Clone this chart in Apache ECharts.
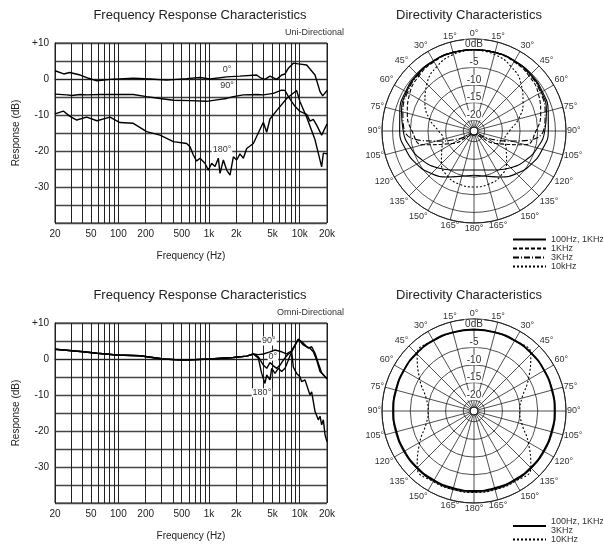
<!DOCTYPE html>
<html>
<head>
<meta charset="utf-8">
<script src="https://cdn.jsdelivr.net/npm/echarts@6/dist/echarts.min.js"></script>
<style>
html, body { margin: 0; padding: 0; background: #fff; }
#main { width: 603px; height: 547px; }
</style>
</head>
<body>
<div id="main"></div>
<script>
// ---- frequency response, uni-directional ----
var uniF0 = [20, 25, 29, 38, 47, 58, 81, 146, 223, 341, 566, 794, 1025, 1564, 2194, 3350, 3650, 4140, 4700, 5570, 6320, 6890, 7500, 8510, 9660, 11940, 14760, 16750, 17920, 20000];
var uniDb0 = [2.3, 1.4, 1.8, 1.1, 0.2, -0.5, -0.1, 0.2, 0, -0.3, 0.1, 0.4, 0, 0.6, 0.8, 1.1, 0.4, -0.1, 0.8, -0.1, 1.1, 1.4, 3, 4.4, 4.2, 3.9, 1.1, -3.5, -4.7, -3.2];

var uniF90 = [20, 27, 30.5, 38, 45, 63, 146, 205, 288, 404, 617, 942, 1214, 1564, 1854, 2390, 3350, 3972, 5118, 6320, 6890, 7500, 8870, 10070, 11940, 12980, 14130, 15380, 17460, 20000];
var uniDb90 = [-4.2, -4.4, -4.6, -4.3, -4.4, -4.3, -4.3, -4.9, -5.4, -5.9, -6.0, -6.2, -5.8, -5.4, -4.9, -4.4, -4.3, -4.4, -4.0, -3.1, -3.2, -4.9, -7.6, -9.0, -9.8, -11.7, -11.2, -12.8, -15.6, -12.5];

var uniF180 = [20, 24.7, 29, 34.7, 44.7, 58, 81, 104, 146, 205, 288, 404, 566, 617, 671, 730, 794, 902, 982, 1069, 1164, 1266, 1321, 1439, 1564, 1703, 1854, 2018, 2194, 2390, 2601, 3080, 3972, 4324, 4700, 5570, 7180, 9250, 10070, 11940, 14760, 17460, 18230, 20000];
var uniDb180 = [-9.7, -8.9, -10.3, -11.4, -10.6, -11.6, -10.6, -12.1, -12.3, -14.6, -15.6, -17.4, -17.9, -18.8, -21.1, -22.8, -22, -23.4, -25.3, -23.4, -24.3, -22, -26.2, -22.5, -25.3, -26.7, -21.6, -22.5, -20.8, -22, -19.3, -17.9, -12, -14.8, -11.1, -8.8, -5.4, -3.2, -6.3, -10.6, -16.9, -24.4, -20.6, -20.8];

// ---- frequency response, omni-directional ----
var omniF0 = [20, 41, 58, 96, 173, 313, 520, 1025, 1854, 2601, 3080, 3500, 3972, 4324, 4700, 5118, 5570, 6070, 6600, 7300, 8150, 9660, 10960, 11940, 12980, 14130, 15380, 16750, 20000];
var omniDb0 = [2.7, 2.0, 1.6, 1.1, 0.9, 0, -0.3, 0, 0.4, 0.8, 1.4, 0.6, -1.7, -2.6, -1.0, -1.9, -2.6, -1.7, -0.3, 1.1, 2.0, 5.5, 3.9, 3.4, 3.0, 2.0, -0.3, -3.5, -5.4];

var omniF90 = [20, 41, 58, 96, 173, 313, 520, 1025, 1854, 2601, 3080, 3500, 3972, 4700, 5340, 6320, 7180, 8150, 9660, 10960, 12450, 13550, 14760, 16040, 17460, 20000];
var omniDb90 = [2.7, 2.0, 1.6, 1.1, 0.9, 0, -0.3, 0, 0.4, 0.8, 1.4, 1.2, 1.4, 2.0, 2.5, 2.0, 1.4, 2.3, 5.5, 4.4, 3.0, 3.4, 1.6, -1.2, -3.8, -5.6];

var omniF180 = [20, 41, 58, 96, 173, 313, 520, 1025, 1854, 2601, 3080, 3500, 3806, 4140, 4324, 4700, 4910, 5340, 5810, 6320, 6890, 7500, 8150, 8510, 9250, 10070, 10500, 11440, 12450, 12980, 13550, 14760, 16040, 16750, 17460, 18230, 19010, 20000];
var omniDb180 = [2.7, 2.0, 1.6, 1.1, 0.9, 0, -0.3, 0, 0.4, 0.8, 1.4, 0.2, -4, -6.8, -4.4, -5.8, -2.6, -4, -2.6, -3.5, -2.6, -0.3, 2.0, -2.3, -4, -4.9, -6.3, -5.8, -8.6, -10, -9.1, -14.6, -16.9, -15.9, -18.3, -16.9, -21, -23];

// grid and tick values of the frequency charts
var gridFreqs = [20, 30, 40, 50, 60, 70, 80, 90, 100, 200, 300, 400, 500, 600, 700, 800, 900, 1000, 2000, 3000, 4000, 5000, 6000, 7000, 8000, 9000, 10000, 20000];
var freqLabels = [20, 50, 100, 200, 500, 1000, 2000, 5000, 10000, 20000];

// ---- directivity (dB at 0..180 deg, mirrored) ----
var dirAngles = [0, 15, 30, 45, 60, 75, 90, 105, 120, 135, 150, 165, 180];
var uni100 = [0, 0, -0.1, -0.3, -0.7, -1.3, -2, -3, -4.3, -6, -8, -9.8, -10.5];
var uni1kSolid = [0, 0, -0.2, -0.5, -1, -1.8, -3, -4.5, -6.3, -8.3, -10.3, -11.6, -12];
var uni1kDash = [0, -0.1, -0.4, -1, -2, -3.5, -5.5, -8, -16, -21, -21.9, -21.9, -21.9];
var uni3k = [0, 0, -0.2, -0.6, -1.3, -2.2, -3.4, -12, -19, -21.9, -21.9, -21.9, -21.9];
var uni10k = [0, -0.6, -2, -4.2, -7, -10, -13, -14, -12.5, -10, -8.2, -7.4, -7.2];
var omniLow = [0, 0, 0, 0, -0.1, -0.2, -0.2, -0.3, -0.3, -0.3, -0.4, -0.4, -0.4];
var omni10k = [0, 0, 0, -0.3, -5.3, -9, -10.1, -9, -5.3, -0.3, 0, 0, 0];

var FONT = 'Liberation Sans, Arial, sans-serif';
var INK = '#222';

function pairs(f, d) {
  return f.map(function (v, i) { return [v, d[i]]; });
}
function ring(db) {
  var out = [];
  for (var i = 0; i < dirAngles.length; i++) out.push([db[i], dirAngles[i]]);
  for (var j = dirAngles.length - 2; j >= 0; j--) out.push([db[j], 360 - dirAngles[j]]);
  return out;
}
function tag(text, f, db) {
  return {
    symbol: 'rect', symbolSize: 1, silent: true,
    itemStyle: { color: 'rgba(0,0,0,0)' },
    label: { show: true, position: 'inside', formatter: text, color: '#333', fontSize: 9, fontFamily: FONT, backgroundColor: '#fff', padding: [0, 1] },
    data: [{ coord: [f, db] }]
  };
}
function vGrid() {
  return {
    silent: true, symbol: ['none', 'none'], label: { show: false },
    lineStyle: { color: INK, width: 1, type: 'solid' },
    data: gridFreqs.map(function (f) { return { xAxis: f }; })
  };
}

var myChart = echarts.init(document.getElementById('main'));

function freqX(i) {
  return {
    gridIndex: i, type: 'log', logBase: 10, min: 20, max: 20000,
    name: 'Frequency (Hz)', nameLocation: 'middle', nameGap: 28,
    nameTextStyle: { color: INK, fontSize: 10, fontFamily: FONT },
    axisLine: { lineStyle: { color: INK } },
    axisTick: { show: false },
    splitLine: { show: false },
    axisLabel: {
      customValues: freqLabels, color: INK, fontSize: 10, fontFamily: FONT, margin: 6,
      formatter: function (v) { return v >= 1000 ? (v / 1000) + 'k' : String(v); }
    }
  };
}
function freqY(i) {
  return {
    gridIndex: i, type: 'value', min: -40, max: 10, interval: 5,
    name: 'Response (dB)', nameLocation: 'middle', nameGap: 34,
    nameTextStyle: { color: INK, fontSize: 10, fontFamily: FONT },
    axisLine: { show: true, lineStyle: { color: INK } },
    axisTick: { show: false },
    splitLine: { show: true, lineStyle: { color: '#444', width: 1.3 } },
    axisLabel: {
      color: INK, fontSize: 10, fontFamily: FONT, margin: 6,
      formatter: function (v) {
        if (v === 10) return '+10';
        if (v % 10 === 0 && v > -40) return String(v);
        return '';
      }
    }
  };
}
function angleAx(i) {
  return {
    polarIndex: i, type: 'value', min: 0, max: 360, interval: 15,
    startAngle: 90, clockwise: true,
    axisLine: { lineStyle: { color: INK, width: 1 } },
    axisTick: { show: false },
    splitLine: { show: true, lineStyle: { color: INK, width: 0.8 } },
    axisLabel: {
      color: '#333', fontSize: 9, fontFamily: FONT, margin: 1,
      formatter: function (v) {
        if (v >= 360) return '';
        return (v <= 180 ? v : 360 - v) + '°';
      }
    }
  };
}
function radiusAx(i) {
  return {
    polarIndex: i, type: 'value', min: -21.9, max: 3,
    axisLine: { show: false },
    axisTick: { show: false },
    splitLine: { show: true, lineStyle: { color: INK, width: 0.8 } },
    axisLabel: {
      margin: 0, align: 'center', verticalAlign: 'bottom',
      color: '#333', fontSize: 10, fontFamily: FONT,
      backgroundColor: '#fff', padding: [0, 1, 0, 1],
      formatter: function (v) {
        if (v === 0) return '0dB';
        if (v < 0 && v >= -20 && v % 5 === 0) return String(v);
        return '';
      }
    }
  };
}
function freqLine(name, grid, f, d, extra) {
  var s = {
    name: name, type: 'line', xAxisIndex: grid, yAxisIndex: grid,
    data: pairs(f, d), showSymbol: false, symbol: 'none', silent: true,
    lineStyle: { color: '#000', width: 1.4 }, z: 5
  };
  for (var k in extra) s[k] = extra[k];
  return s;
}
function dirLine(name, polar, db, type, width) {
  return {
    name: name, type: 'line', coordinateSystem: 'polar', polarIndex: polar,
    data: ring(db), smooth: true, showSymbol: false, symbol: 'none', silent: true,
    itemStyle: { color: '#000' },
    lineStyle: { color: '#000', width: width || 1.1, type: type }, z: 5
  };
}
function dirLegend(names, top, lh) {
  return {
    data: names,
    orient: 'vertical', left: 512, top: top, padding: 0,
    itemWidth: 33, itemHeight: 6, itemGap: 0, selectedMode: false,
    itemStyle: { color: 'rgba(0,0,0,0)', borderColor: 'rgba(0,0,0,0)', borderWidth: 0, opacity: 0 },
    textStyle: { color: '#333', fontSize: 9, fontFamily: FONT, lineHeight: lh }
  };
}

var option = {
  animation: false,
  backgroundColor: '#fff',
  textStyle: { fontFamily: FONT },
  graphic: [
    { type: 'text', x: 200, y: 15, style: { text: 'Frequency Response Characteristics', font: '13px ' + FONT, fill: INK, textAlign: 'center', textVerticalAlign: 'middle' } },
    { type: 'text', x: 200, y: 295, style: { text: 'Frequency Response Characteristics', font: '13px ' + FONT, fill: INK, textAlign: 'center', textVerticalAlign: 'middle' } },
    { type: 'text', x: 469, y: 15, style: { text: 'Directivity Characteristics', font: '13px ' + FONT, fill: INK, textAlign: 'center', textVerticalAlign: 'middle' } },
    { type: 'text', x: 469, y: 295, style: { text: 'Directivity Characteristics', font: '13px ' + FONT, fill: INK, textAlign: 'center', textVerticalAlign: 'middle' } },
    { type: 'text', x: 344, y: 33, style: { text: 'Uni-Directional', font: '9px ' + FONT, fill: '#333', textAlign: 'right', textVerticalAlign: 'middle' } },
    { type: 'text', x: 344, y: 313, style: { text: 'Omni-Directional', font: '9px ' + FONT, fill: '#333', textAlign: 'right', textVerticalAlign: 'middle' } }
  ],
  grid: [
    { left: 55, top: 43, width: 272, height: 180, show: true, borderColor: INK, borderWidth: 1, backgroundColor: '#fff' },
    { left: 55, top: 323, width: 272, height: 180, show: true, borderColor: INK, borderWidth: 1, backgroundColor: '#fff' }
  ],
  xAxis: [freqX(0), freqX(1)],
  yAxis: [freqY(0), freqY(1)],
  polar: [
    { center: [474, 131], radius: [4, 92] },
    { center: [474, 411], radius: [4, 92] }
  ],
  angleAxis: [angleAx(0), angleAx(1)],
  radiusAxis: [radiusAx(0), radiusAx(1)],
  legend: [
    dirLegend(['100Hz, 1KHz', '1KHz', '3KHz', '10kHz'], 235, 8.4),
    dirLegend(['100Hz, 1KHz\n3KHz', '10KHz'], 517, 9)
  ],
  series: [
    freqLine('uni 0', 0, uniF0, uniDb0, { markLine: vGrid(), markPoint: tag('0°', 1576, 2.5) }),
    freqLine('uni 90', 0, uniF90, uniDb90, { markPoint: tag('90°', 1576, -1.9) }),
    freqLine('uni 180', 0, uniF180, uniDb180, { markPoint: tag('180°', 1388, -19.7) }),
    freqLine('omni 0', 1, omniF0, omniDb0, { markLine: vGrid(), markPoint: tag('0°', 5064, 0.8) }),
    freqLine('omni 90', 1, omniF90, omniDb90, { markPoint: tag('90°', 4574, 5) }),
    freqLine('omni 180', 1, omniF180, omniDb180, { markPoint: tag('180°', 3830, -9.4) }),
    dirLine('100Hz, 1KHz', 0, uni100, 'solid'),
    dirLine('100Hz, 1KHz', 0, uni1kSolid, 'solid'),
    dirLine('1KHz', 0, uni1kDash, [4, 2]),
    dirLine('3KHz', 0, uni3k, [6, 2, 1, 2]),
    dirLine('10kHz', 0, uni10k, [2, 2]),
    dirLine('100Hz, 1KHz\n3KHz', 1, omniLow, 'solid', 2),
    dirLine('10KHz', 1, omni10k, [2, 2])
  ]
};
myChart.setOption(option);
</script>
</body>
</html>
